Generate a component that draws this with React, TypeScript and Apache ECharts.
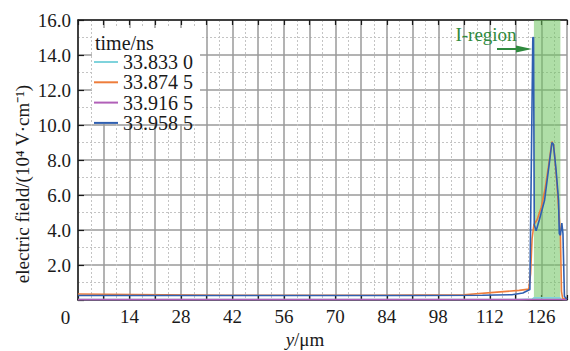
import React, { useEffect, useRef } from "react";
import * as echarts from "echarts";

const seriesNames = ["33.833 0", "33.874 5", "33.916 5", "33.958 5"];
const seriesColors = ["#7fd3dc", "#ee7d3b", "#b160b8", "#2f5fb0"];

const cyanData: number[][] = [
  [0, 0.03], [120, 0.03], [123.5, 0.05], [124, 0.12], [131, 0.12], [131.5, 0.04], [133, 0.03],
];
const orangeData: number[][] = [
  [0, 0.34], [15, 0.31], [40, 0.27], [80, 0.27], [105, 0.3], [114, 0.45], [120, 0.55],
  [122.6, 0.62], [123.1, 1.5], [123.5, 3.5], [124.0, 4.3], [124.9, 4.6], [126.0, 5.3],
  [127.0, 6.3], [128.0, 7.7], [128.9, 9.05], [129.4, 8.8], [130.2, 6.8], [130.8, 5.0],
  [131.2, 3.8], [131.5, 0.5], [131.8, 0.1], [133, 0.05],
];
const purpleData: number[][] = [
  [0, 0.02], [60, 0.02], [120, 0.02], [124, 0.03], [131, 0.03], [133, 0.02],
];
const blueData: number[][] = [
  [0, 0.26], [30, 0.26], [60, 0.26], [90, 0.26], [110, 0.27], [118, 0.3], [121, 0.4],
  [122.9, 0.6], [123.7, 15.0], [123.9, 15.0], [124.1, 4.3], [124.6, 3.95], [125.5, 4.6],
  [126.9, 5.7], [128.0, 7.5], [128.9, 9.0], [129.3, 8.9], [130.0, 7.5], [130.7, 5.7],
  [130.9, 3.8], [131.2, 3.7], [131.6, 4.4], [131.9, 3.8], [132.3, 0.2], [133, 0.05],
];
const regionRange = [124.0, 131.2];

const xMin = 0;
const xMax = 133;
const xInterval = 7;
const yMin = 0;
const yMax = 16;
const yInterval = 2;

const FONT = "Liberation Serif";

export default function App() {
  const ref = useRef<HTMLDivElement>(null);
  useEffect(() => {
    if (!ref.current) return;
    const chart = echarts.init(ref.current, undefined, { renderer: "svg" });
    const allData = [cyanData, orangeData, purpleData, blueData];
    const solidGrid = { show: true, lineStyle: { color: "#9a9a9a", width: 1.5 } };
    const dottedGrid = { show: true, lineStyle: { color: "#c4c4c4", width: 1, type: [2, 2] as any } };
    const green = "#2f8a3e";
    chart.setOption({
      animation: false,
      backgroundColor: "#fff",
      textStyle: { fontFamily: FONT },
      grid: { left: 78, right: 0, top: 20, bottom: 51, containLabel: false },
      legend: {
        data: seriesNames,
        orient: "vertical",
        left: 94,
        top: 52,
        padding: 0,
        itemGap: 0.3,
        itemWidth: 24,
        itemHeight: 2,
        icon: "rect",
        z: 6,
        textStyle: { fontFamily: FONT, fontSize: 20, color: "#1a1a1a", lineHeight: 18 },
      },
      xAxis: [
        {
          type: "value",
          min: xMin,
          max: xMax,
          interval: xInterval,
          axisLine: { show: true, onZero: false, lineStyle: { color: "#1a1a1a", width: 1.5 } },
          axisTick: { show: true, inside: true, length: 5, lineStyle: { color: "#1a1a1a", width: 1.2 } },
          axisLabel: {
            margin: 7,
            fontFamily: FONT,
            fontSize: 19,
            color: "#1a1a1a",
            formatter: (v: number) => (v !== 0 && v % 14 === 0 ? String(v) : ""),
          },
          splitLine: solidGrid,
          minorTick: { show: false, splitNumber: 2 },
          minorSplitLine: dottedGrid,
        },
        {
          type: "value",
          position: "top",
          min: xMin,
          max: xMax,
          interval: xInterval,
          axisLine: { show: true, onZero: false, lineStyle: { color: "#1a1a1a", width: 1.5 } },
          axisTick: { show: true, inside: true, length: 5, lineStyle: { color: "#1a1a1a", width: 1.2 } },
          axisLabel: { show: false },
          splitLine: { show: false },
        },
      ],
      yAxis: {
        type: "value",
        min: yMin,
        max: yMax,
        interval: yInterval,
        axisLine: { show: true, onZero: false, lineStyle: { color: "#1a1a1a", width: 1.5 } },
        axisTick: { show: true, inside: true, length: 6, lineStyle: { color: "#1a1a1a", width: 1.2 } },
        axisLabel: {
          margin: 7,
          fontFamily: FONT,
          fontSize: 19,
          color: "#1a1a1a",
          formatter: (v: number) => (v === 0 ? "" : v.toFixed(1)),
        },
        splitLine: solidGrid,
        minorTick: { show: false, splitNumber: 2 },
        minorSplitLine: dottedGrid,
      },
      series: [
        {
          name: "region",
          type: "line",
          data: [],
          silent: true,
          markArea: {
            silent: true,
            itemStyle: { color: "rgba(110,195,95,0.55)" },
            data: [[{ xAxis: regionRange[0] }, { xAxis: regionRange[1] }]],
          },
        },
        ...seriesNames.map((name, i) => ({
          name,
          type: "line",
          data: allData[i],
          showSymbol: false,
          symbol: "none",
          color: seriesColors[i],
          lineStyle: { color: seriesColors[i], width: 1.6 },
          z: 3,
        })),
      ],
      graphic: [
        {
          type: "rect",
          z: 4,
          shape: { x: 92, y: 28, width: 108, height: 96 },
          style: { fill: "#fff" },
        },
        {
          type: "text",
          z: 6,
          x: 95,
          y: 43,
          style: {
            text: "time/ns",
            fontFamily: FONT,
            fontSize: 20,
            fill: "#1a1a1a",
            verticalAlign: "middle",
          },
        },
        {
          type: "text",
          z: 6,
          x: 65.5,
          y: 317,
          style: {
            text: "0",
            fontFamily: FONT,
            fontSize: 19,
            fill: "#1a1a1a",
            align: "center",
            verticalAlign: "middle",
          },
        },
        {
          type: "text",
          z: 6,
          x: 22,
          y: 184,
          rotation: Math.PI / 2,
          style: {
            text: "electric field/(10⁴ V·cm⁻¹)",
            fontFamily: FONT,
            fontSize: 19,
            fill: "#1a1a1a",
            align: "center",
            verticalAlign: "middle",
          },
        },
        {
          type: "text",
          z: 6,
          x: 305,
          y: 339,
          style: {
            text: "{i|y}/μm",
            fontFamily: FONT,
            fontSize: 19,
            fill: "#1a1a1a",
            align: "center",
            verticalAlign: "middle",
            rich: { i: { fontStyle: "italic", fontFamily: FONT, fontSize: 19, fill: "#1a1a1a" } },
          },
        },
        {
          type: "text",
          z: 6,
          x: 486,
          y: 34,
          style: {
            text: "I-region",
            fontFamily: FONT,
            fontSize: 19,
            fill: green,
            align: "center",
            verticalAlign: "middle",
          },
        },
        {
          type: "line",
          z: 6,
          shape: { x1: 497, y1: 49, x2: 520, y2: 49 },
          style: { stroke: green, lineWidth: 2 },
        },
        {
          type: "polygon",
          z: 6,
          shape: { points: [[516, 45.5], [532, 49], [516, 52.5]] },
          style: { fill: green },
        },
      ],
    });
    return () => chart.dispose();
  }, []);
  return (
    <div
      ref={ref}
      style={{ position: "fixed", left: 0, top: 0, width: 570, height: 351, background: "#fff" }}
    />
  );
}
